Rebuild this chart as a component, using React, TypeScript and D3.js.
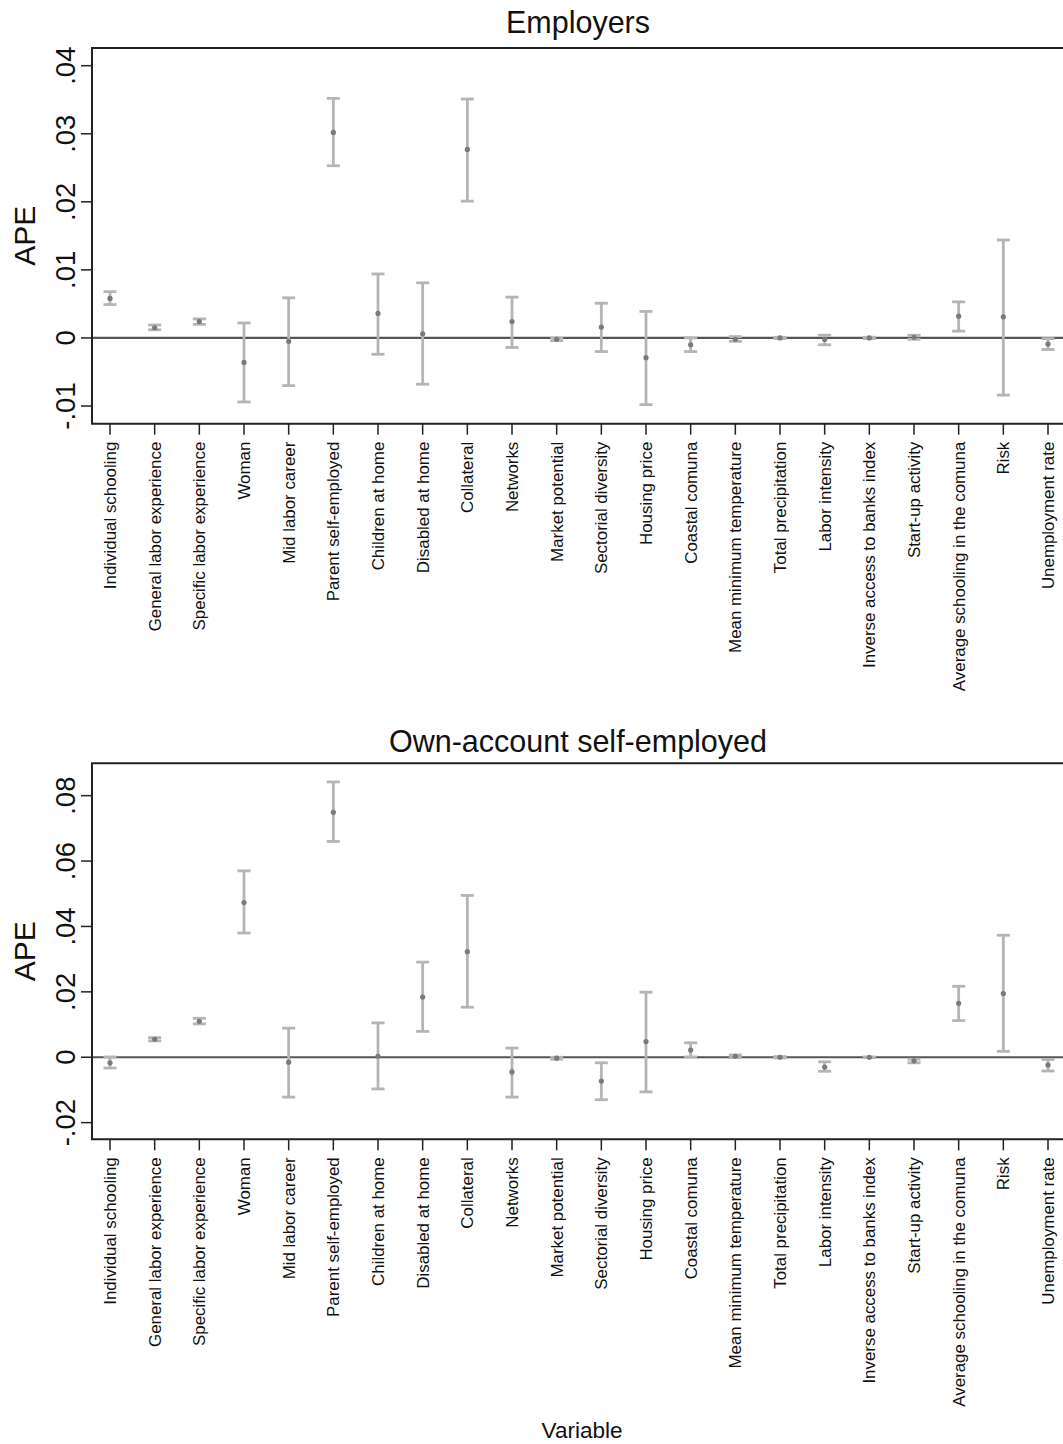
import React from "react";
import * as d3 from "d3";

const variables = [
  "Individual schooling",
  "General labor experience",
  "Specific labor experience",
  "Woman",
  "Mid labor career",
  "Parent self-employed",
  "Children at home",
  "Disabled at home",
  "Collateral",
  "Networks",
  "Market potential",
  "Sectorial diversity",
  "Housing price",
  "Coastal comuna",
  "Mean minimum temperature",
  "Total precipitation",
  "Labor intensity",
  "Inverse access to banks index",
  "Start-up activity",
  "Average schooling in the comuna",
  "Risk",
  "Unemployment rate",
];

// Employers: estimate and 95% CI bounds
const empEst = [0.0058, 0.0015, 0.0024, -0.0036, -0.0005, 0.0302, 0.0036, 0.0006, 0.0277, 0.0024, -0.0002, 0.0016, -0.0029, -0.001, -0.0002, 0.0, -0.0002, 0.0, 0.0001, 0.0032, 0.0031, -0.0009];
const empLo = [0.0049, 0.0012, 0.002, -0.0094, -0.007, 0.0253, -0.0024, -0.0068, 0.0201, -0.0014, -0.0004, -0.002, -0.0098, -0.002, -0.0005, -0.0001, -0.001, -0.0001, -0.0002, 0.001, -0.0084, -0.0017];
const empHi = [0.0068, 0.0019, 0.0028, 0.0022, 0.0059, 0.0352, 0.0094, 0.0081, 0.0351, 0.006, 0.0, 0.0051, 0.0039, 0.0, 0.0002, 0.0001, 0.0004, 0.0001, 0.0004, 0.0053, 0.0144, -0.0001];
const empTicks = [-0.01, 0, 0.01, 0.02, 0.03, 0.04];

// Own-account self-employed
const ownEst = [-0.0017, 0.0055, 0.011, 0.0473, -0.0015, 0.0749, 0.0003, 0.0184, 0.0323, -0.0045, -0.0003, -0.0073, 0.0048, 0.0022, 0.0003, 0.0, -0.003, 0.0, -0.0011, 0.0165, 0.0195, -0.0024];
const ownLo = [-0.0033, 0.005, 0.0102, 0.038, -0.0122, 0.066, -0.0097, 0.0079, 0.0153, -0.0122, -0.0006, -0.013, -0.0106, 0.0001, -0.0001, -0.0002, -0.0043, -0.0001, -0.0017, 0.0112, 0.0018, -0.0042];
const ownHi = [0.0001, 0.006, 0.0119, 0.057, 0.0089, 0.0842, 0.0105, 0.0291, 0.0495, 0.0028, 0.0, -0.0017, 0.0199, 0.0044, 0.0007, 0.0002, -0.0014, 0.0001, -0.0006, 0.0217, 0.0373, -0.0007];
const ownTicks = [-0.02, 0, 0.02, 0.04, 0.06, 0.08];

const FONT = "'Liberation Sans', Arial, Helvetica, sans-serif";
const W = 1063;
const H = 1444;
const LEFT = 92;
const RIGHT = 1066;

const fmt = (v: number) => (v === 0 ? "0" : String(+v.toFixed(4)).replace("0.", "."));

const x = d3.scalePoint<string>().domain(variables).range([110, 1048]);

function Panel({ title, titleY, top, bottom, domain, ticks, est, lo, hi }: any) {
  const y = d3.scaleLinear().domain(domain).range([bottom, top]);
  const mid = (top + bottom) / 2;
  return (
    <g>
      <text x={578} y={titleY} textAnchor="middle" fontSize={30.5} fill="#111">
        {title}
      </text>
      <text transform={`translate(35,${mid}) rotate(-90)`} textAnchor="middle" fontSize={30} fill="#111">
        APE
      </text>
      {/* zero line */}
      <line x1={LEFT} x2={RIGHT} y1={y(0)} y2={y(0)} stroke="#555" strokeWidth={2.2} />
      {/* error bars */}
      {variables.map((v, i) => {
        const cx = x(v) as number;
        return (
          <g key={v} stroke="#b5b5b5" strokeWidth={2.8}>
            <line x1={cx} x2={cx} y1={y(lo[i])} y2={y(hi[i])} />
            <line x1={cx - 6.5} x2={cx + 6.5} y1={y(lo[i])} y2={y(lo[i])} />
            <line x1={cx - 6.5} x2={cx + 6.5} y1={y(hi[i])} y2={y(hi[i])} />
          </g>
        );
      })}
      {variables.map((v, i) => (
        <circle key={v} cx={x(v) as number} cy={y(est[i])} r={2.6} fill="#7a7a7a" />
      ))}
      {/* frame */}
      <path d={`M${RIGHT},${top}H${LEFT}V${bottom}H${RIGHT}`} fill="none" stroke="#222" strokeWidth={2} />
      {/* y axis */}
      {ticks.map((t: number) => (
        <g key={t}>
          <line x1={LEFT - 11} x2={LEFT} y1={y(t)} y2={y(t)} stroke="#222" strokeWidth={1.5} />
          <text transform={`translate(75,${y(t)}) rotate(-90)`} textAnchor="middle" fontSize={27.5} fill="#111">
            {fmt(t)}
          </text>
        </g>
      ))}
      {/* x axis */}
      {variables.map((v) => {
        const cx = x(v) as number;
        return (
          <g key={v}>
            <line x1={cx} x2={cx} y1={bottom} y2={bottom + 11} stroke="#222" strokeWidth={1.5} />
            <text
              transform={`translate(${cx},${bottom + 18}) rotate(-90)`}
              textAnchor="end"
              dy="0.35em"
              fontSize={16.9}
              fill="#111"
            >
              {v}
            </text>
          </g>
        );
      })}
    </g>
  );
}

export default function App() {
  return (
    <svg
      width={W}
      height={H}
      viewBox={`0 0 ${W} ${H}`}
      style={{ position: "absolute", left: 0, top: 0, background: "#fff" }}
      fontFamily={FONT}
    >
      <rect width={W} height={H} fill="#fff" />
      <Panel
        title="Employers"
        titleY={33}
        top={48}
        bottom={423.7}
        domain={[-0.0126, 0.0426]}
        ticks={empTicks}
        est={empEst}
        lo={empLo}
        hi={empHi}
      />
      <Panel
        title="Own-account self-employed"
        titleY={752}
        top={763.3}
        bottom={1139.3}
        domain={[-0.0251, 0.0899]}
        ticks={ownTicks}
        est={ownEst}
        lo={ownLo}
        hi={ownHi}
      />
      <text x={582} y={1438} textAnchor="middle" fontSize={22.5} fill="#111">
        Variable
      </text>
    </svg>
  );
}
